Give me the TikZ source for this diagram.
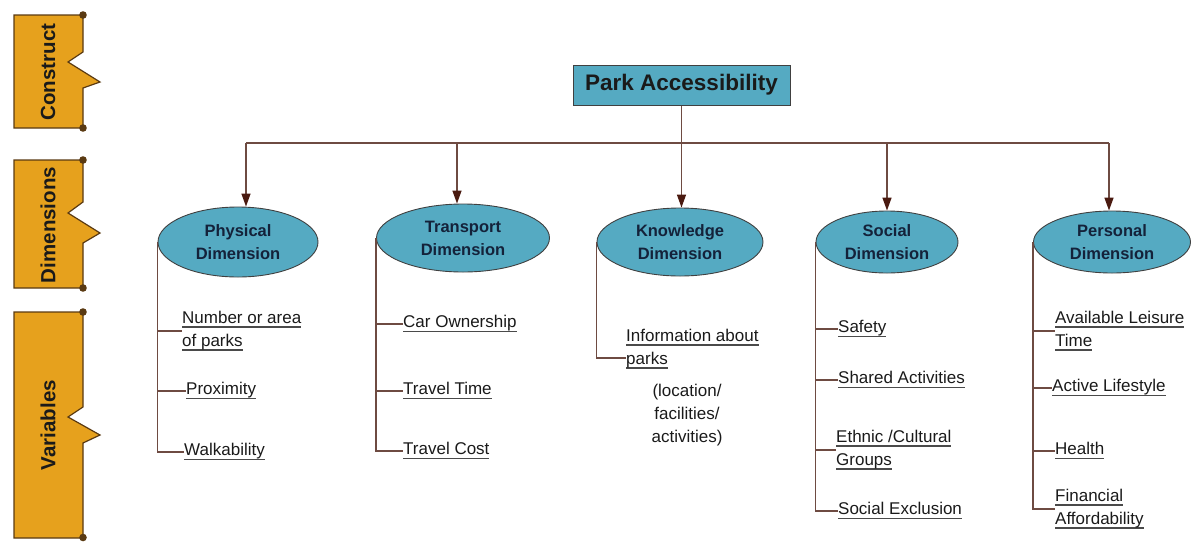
\documentclass[tikz,border=0pt]{standalone}
\usepackage{fontspec}
\setmainfont{Liberation Sans}
\usetikzlibrary{shapes.geometric,arrows.meta}
\definecolor{bannerfill}{HTML}{E6A11D}
\definecolor{bannerline}{HTML}{5A3A12}
\definecolor{tealfill}{HTML}{55AAC2}
\definecolor{connc}{HTML}{6E4B42}
\definecolor{headc}{HTML}{4A1A10}
\definecolor{ulc}{HTML}{4A4A4A}
\definecolor{txt}{HTML}{1A1A1A}
\definecolor{etxt}{HTML}{14223A}
\newcommand\ulin[1]{\setbox0=\hbox{#1}\leavevmode\rlap{\color{ulc}\rule[-4.6pt]{\wd0}{1.6pt}}\box0}
\begin{document}
\begin{tikzpicture}[x=1pt,y=-1pt,
  banner/.style={fill=bannerfill, draw=bannerline, line width=1.2pt, line join=miter},
  bdot/.style={fill=bannerline},
  btext/.style={rotate=90, inner sep=0pt, font=\fontsize{20.5}{24}\selectfont\bfseries, text=txt},
  pabox/.style={rectangle, draw=black!75, line width=1pt, fill=tealfill, minimum width=217pt, minimum height=40pt, inner sep=0pt, font=\fontsize{22.5}{26}\selectfont\bfseries, text=txt},
  dim/.style={ellipse, draw=black!75, line width=0.9pt, fill=tealfill, inner sep=0pt, align=center, font=\fontsize{16.5}{23}\selectfont\bfseries, text=etxt},
  lbl/.style={anchor=west, align=left, inner sep=0pt, font=\fontsize{17}{23}\selectfont, text=txt},
  note/.style={align=center, inner sep=0pt, font=\fontsize{17}{23}\selectfont, text=txt},
  conn/.style={draw=connc, line width=1.4pt},
  arr/.style={conn, -{Triangle[width=9pt,length=13pt,color=headc]}}
]
\useasboundingbox (0,0) rectangle (1192,542);
% ---- left banners
\path[banner] (14,15) -- (83,15) -- (83,52) -- (68,62) -- (100,82) -- (83,88) -- (83,128) -- (14,128) -- cycle;
\path[banner] (14,160) -- (83,160) -- (83,202) -- (68,213) -- (100,233) -- (83,243) -- (83,288) -- (14,288) -- cycle;
\path[banner] (14,312) -- (83,312) -- (83,407) -- (68,417) -- (100,435) -- (83,443) -- (83,538) -- (14,538) -- cycle;
\fill[bdot] (83,15) circle[radius=3.8] (83,128) circle[radius=3.8]
            (83,160) circle[radius=3.8] (83,288) circle[radius=3.8]
            (83,312) circle[radius=3.8] (83,537.5) circle[radius=3.8];
\node[btext] (bc) at (48,72) {Construct};
\node[btext] (bd) at (48,225) {Dimensions};
\node[btext] (bv) at (48,425) {Variables};
% ---- top node
\node[pabox] (pa) at (681.5,85) {Park Accessibility};
% ---- dimension ellipses
\node[dim, minimum width=160pt, minimum height=70pt] (phys) at (238,242) {Physical\\Dimension};
\node[dim, minimum width=173pt, minimum height=68pt] (trans) at (463,238) {Transport\\Dimension};
\node[dim, minimum width=166pt, minimum height=68pt] (know) at (680,242) {Knowledge\\Dimension};
\node[dim, minimum width=142pt, minimum height=62pt] (soc) at (887,242) {Social\\Dimension};
\node[dim, minimum width=157pt, minimum height=62pt] (pers) at (1112,242) {Personal\\Dimension};
% ---- bus line and arrows
\coordinate (hL) at (246,143);
\coordinate (hT) at (457,143);
\coordinate (hS) at (887,143);
\coordinate (hR) at (1109,143);
\draw[conn] (pa.south) -- (pa.south |- hL);
\draw[conn] (hL) -- (hR);
\draw[arr] (hL) -- (hL |- phys.north);
\draw[arr] (hT) -- (hT |- trans.north);
\draw[arr] (pa.south |- hL) -- (pa.south |- know.north);
\draw[arr] (hS) -- (soc.north);
\draw[arr] (hR) -- (hR |- pers.north);
% ---- physical variables
\node[lbl] (num) at (182,331) {\ulin{Number or area}\\\ulin{of parks}};
\node[lbl] (prox) at (186,391) {\ulin{Proximity}};
\node[lbl] (walk) at (184,452) {\ulin{Walkability}};
\draw[conn] (phys.west) |- (walk.west);
\draw[conn] (phys.west |- num.west) -- (num.west);
\draw[conn] (phys.west |- prox.west) -- (prox.west);
% ---- transport variables
\node[lbl] (car) at (403,324) {\ulin{Car Ownership}};
\node[lbl] (ttime) at (403,391) {\ulin{Travel Time}};
\node[lbl] (tcost) at (403,451) {\ulin{Travel Cost}};
\draw[conn] (trans.west) |- (tcost.west);
\draw[conn] (trans.west |- car.west) -- (car.west);
\draw[conn] (trans.west |- ttime.west) -- (ttime.west);
% ---- knowledge variables
\node[lbl] (info) at (626,349) {\ulin{Information about}\\\ulin{parks}};
\coordinate (infoc) at ([yshift=11pt]info.south west);
\draw[conn] (know.west) |- (infoc);
\node[note] (loc) at (687,415) {(location/\\facilities/\\activities)};
% ---- social variables
\node[lbl] (safe) at (838,329) {\ulin{Safety}};
\node[lbl] (shared) at (838,380) {\ulin{Shared Activities}};
\node[lbl] (eth) at (836,450) {\ulin{Ethnic /Cultural}\\\ulin{Groups}};
\node[lbl] (excl) at (838,511) {\ulin{Social Exclusion}};
\draw[conn] (soc.west) |- (excl.west);
\draw[conn] (soc.west |- safe.west) -- (safe.west);
\draw[conn] (soc.west |- shared.west) -- (shared.west);
\draw[conn] (soc.west |- eth.west) -- (eth.west);
% ---- personal variables
\node[lbl] (avail) at (1055,331) {\ulin{Available Leisure}\\\ulin{Time}};
\node[lbl] (active) at (1052,388) {\ulin{Active Lifestyle}};
\node[lbl] (health) at (1055,451) {\ulin{Health}};
\node[lbl] (fin) at (1055,509) {\ulin{Financial}\\\ulin{Affordability}};
\draw[conn] (pers.west) |- (fin.west);
\draw[conn] (pers.west |- avail.west) -- (avail.west);
\draw[conn] (pers.west |- active.west) -- (active.west);
\draw[conn] (pers.west |- health.west) -- (health.west);
\end{tikzpicture}
\end{document}
